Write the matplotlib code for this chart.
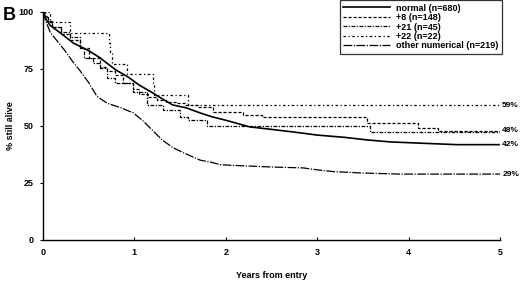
import matplotlib
matplotlib.use("Agg")
import matplotlib.pyplot as plt

# survival curves (years, % still alive)
normal_t = [0, 0.03, 0.08, 0.2, 0.33, 0.5, 0.62, 0.7, 0.8, 0.93, 1.05, 1.2, 1.3, 1.42, 1.57, 1.72, 1.85, 2.0, 2.26, 2.5, 2.81, 3.0, 3.3, 3.54, 3.8, 4.1, 4.53, 5.0]
normal_s = [100, 97, 94, 90.5, 86.4, 83, 80, 77.5, 74.5, 71.5, 68, 64.5, 62, 59.2, 57.9, 55.7, 54, 52.5, 49.6, 48.5, 47, 46, 45, 43.9, 43, 42.5, 41.8, 41.8]

plus8_t = [0, 0.02, 0.05, 0.1, 0.2, 0.3, 0.4, 0.5, 0.62, 0.7, 0.79, 0.88, 0.99, 1.05, 1.15, 1.25, 1.35, 1.45, 1.55, 1.7, 1.86, 2.19, 2.4, 3.55, 4.1, 4.32, 5.0]
plus8_s = [100, 98, 96, 93.5, 90.5, 87.5, 84, 80, 76, 74, 72.4, 69, 66, 64, 62.5, 61.5, 60.5, 60, 59, 58.5, 56, 55, 54, 51.3, 49.1, 47.8, 47.8]

plus21_t = [0, 0.02, 0.05, 0.1, 0.2, 0.3, 0.4, 0.45, 0.55, 0.62, 0.7, 0.79, 0.99, 1.14, 1.31, 1.5, 1.59, 1.79, 3.58, 5.0]
plus21_s = [100, 97.8, 95.6, 93.3, 91.1, 88.9, 84.4, 80, 77.8, 75.6, 71.1, 69, 64.9, 59.2, 57, 54, 52.6, 50, 47.4, 47.4]

plus22_t = [0, 0.08, 0.29, 0.72, 0.73, 0.75, 0.92, 1.2, 1.21, 1.59, 5.0]
plus22_s = [100, 95.5, 90.9, 86.4, 81.8, 77.3, 72.7, 68.2, 63.6, 59.1, 59.1]

other_t = [0, 0.03, 0.08, 0.16, 0.24, 0.32, 0.4, 0.5, 0.59, 0.7, 0.85, 0.99, 1.1, 1.2, 1.3, 1.42, 1.55, 1.72, 1.85, 1.94, 2.2, 2.5, 2.85, 2.95, 3.17, 3.47, 3.9, 5.0]
other_s = [100, 96, 91, 87, 83, 78.5, 74.5, 69, 63, 60, 58, 55.7, 52, 48, 44, 40.5, 38, 35, 34, 33, 32.5, 32, 31.6, 31, 30, 29.4, 28.9, 28.9]

labels = ["normal (n=680)", "+8 (n=148)", "+21 (n=45)", "+22 (n=22)", "other numerical (n=219)"]
end_labels = ["59%", "48%", "42%", "29%"]
end_values = [59.1, 47.8, 41.8, 28.9]

plt.rcParams['font.family'] = ['Liberation Sans', 'DejaVu Sans']
plt.rcParams['font.weight'] = 'bold'

fig = plt.figure(figsize=(5.2, 2.84), dpi=100)
ax = fig.add_axes([0.0827, 0.155, 0.8788, 0.803])

# the big groups have so many small steps that they read as a line
ax.plot(normal_t, normal_s, color='black', lw=1.2, label=labels[0])
ax.step(plus8_t, plus8_s, where='post', color='black', lw=0.9, dashes=(2.5, 1.5), label=labels[1])
ax.step(plus21_t, plus21_s, where='post', color='black', lw=0.9, dashes=(3, 1.2, 1, 1.2), label=labels[2])
ax.step(plus22_t, plus22_s, where='post', color='black', lw=0.9, dashes=(2, 2, 1, 2), label=labels[3])
ax.plot(other_t, other_s, color='black', lw=0.9, dashes=(7, 1.2, 1, 1.2), label=labels[4])

for lab, v in zip(end_labels, end_values):
    ax.text(5.025, v, lab, fontsize=6, fontweight='bold', va='center', ha='left')

ax.set_xlim(0, 5)
ax.set_ylim(0, 100)
ax.set_xticks([0, 1, 2, 3, 4, 5])
ax.set_yticks([0, 25, 50, 75, 100])
ax.spines['top'].set_visible(False)
ax.spines['right'].set_visible(False)
ax.spines['left'].set_linewidth(1.0)
ax.spines['bottom'].set_linewidth(1.0)
ax.tick_params(axis='y', direction='out', length=2.5, width=0.8, labelsize=6.5, pad=4)
ax.tick_params(axis='x', direction='in', length=2.5, width=0.8, labelsize=6.5, pad=6)

ax.set_ylabel("% still alive", fontsize=6.5, fontweight='bold')
ax.yaxis.set_label_coords(-0.062, 0.5)
ax.set_xlabel("Years from entry", fontsize=6.5, fontweight='bold', labelpad=10)

leg = fig.legend(loc='upper right', bbox_to_anchor=(0.965, 1.0), fontsize=6.5, frameon=True,
                 fancybox=False, edgecolor='black', handlelength=5.2, labelspacing=0.05,
                 borderpad=0.4, handletextpad=0.6, borderaxespad=0.0)
leg.get_frame().set_linewidth(0.9)

fig.text(0.006, 0.93, "B", fontsize=13, fontweight='bold')

fig.savefig("out.png", dpi=100)
